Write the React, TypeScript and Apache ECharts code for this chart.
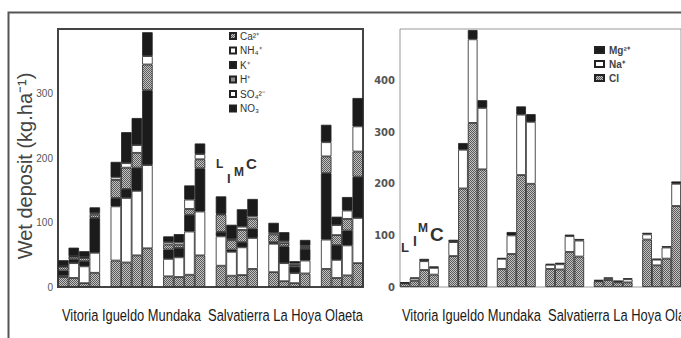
import React, { useEffect, useRef } from "react";
import * as echarts from "echarts";

const sites = ["Vitoria", "Igueldo", "Mundaka", "Salvatierra", "La Hoya", "Olaeta"];
const subLabels = ["L", "I", "M", "C"];

// Left panel (kg/ha), 4 bars per site: L, I, M, C — stacked bottom to top
const caL = [15.5, 14, 6, 22, 41, 38, 49, 60, 16.5, 15.5, 19, 49, 33, 17.5, 18.5, 28, 23, 9, 6, 21, 28, 14, 18, 37];
const nh4L = [2, 23, 26, 31, 84, 100, 100, 129, 27, 30.5, 67, 68, 45.5, 37, 43, 48, 44, 28, 15.5, 20, 45.5, 28, 46.5, 70];
const kL = [8, 6, 8, 54, 13, 14, 36, 116, 14.5, 14.5, 26, 67, 7, 3.5, 8, 14.5, 2.5, 26, 10, 18, 103, 23, 23, 64];
const hL = [6, 4, 5, 5, 28, 33, 23, 40, 8, 5, 9, 14, 27, 14.5, 19, 15.5, 12, 5, 2.5, 3, 26, 15.5, 18, 39];
const so4L = [1, 1, 1.5, 2.5, 4, 7, 12, 13, 3.5, 3.5, 14.5, 8, 1, 2, 5, 3.5, 2.5, 3, 2.5, 2, 22, 15.5, 13, 39];
const no3L = [9, 13, 9, 9, 24, 48, 42, 37, 9, 13, 22, 16.5, 27, 22, 27, 27, 15.5, 14, 3.5, 9, 27, 13, 21, 44];

// Right panel
const clR = [7, 12, 33, 24, 60, 191, 318, 228, 35, 64, 217, 200, 35, 34, 68, 59, 11, 13.5, 9, 9, 92, 42, 55, 157];
const naR = [1, 4.5, 17, 13, 27, 75, 162, 119, 19.5, 36, 117, 120, 8, 10, 30.5, 31, 1.3, 3, 2, 6, 10, 11, 21.5, 43];
const mgR = [1, 2, 4.5, 3, 4.5, 13, 18, 15, 2, 6.5, 16, 15, 2, 3, 3, 3, 1.3, 2, 1, 2, 3, 2, 2.6, 4.5];

const leftTicks = ["0", "100", "200", "300"];
const rightTicks = ["0", "100", "200", "300", "400"];
const siteLine = "Vitoria Igueldo Mundaka  Salvatierra La Hoya Olaeta";

// 29 slots: 4 bars per site + 1 gap between sites
const slots: string[] = [];
sites.forEach((s, i) => {
  subLabels.forEach((l) => slots.push(s + " " + l));
  if (i < sites.length - 1) slots.push("");
});

function pad(vals: number[]): (number | null)[] {
  const out: (number | null)[] = [];
  sites.forEach((_, i) => {
    for (let j = 0; j < 4; j++) out.push(vals[i * 4 + j]);
    if (i < sites.length - 1) out.push(null);
  });
  return out;
}

export default function App() {
  const ref = useRef<HTMLDivElement>(null);
  useEffect(() => {
    if (!ref.current) return;
    const chart = echarts.init(ref.current, undefined, { renderer: "svg" });

    const cv = document.createElement("canvas");
    cv.width = 2;
    cv.height = 2;
    const cx = cv.getContext("2d")!;
    cx.fillStyle = "#c4c4c4";
    cx.fillRect(0, 0, 2, 2);
    cx.fillStyle = "#5a5a5a";
    cx.fillRect(0, 0, 1, 1);
    cx.fillRect(1, 1, 1, 1);
    const hatch: any = { image: cv, repeat: "repeat", imageWidth: 2, imageHeight: 2 };

    const border = { borderColor: "#222", borderWidth: 0.8 };
    const mk = (name: string, data: number[], color: any, idx: number, stack: string) => ({
      name,
      type: "bar",
      stack,
      xAxisIndex: idx,
      yAxisIndex: idx,
      data: pad(data),
      barCategoryGap: "0%",
      itemStyle: { color, ...border },
    });

    const fontFamily = "Liberation Sans, Arial, sans-serif";

    chart.setOption({
      animation: false,
      textStyle: { fontFamily },
      grid: [
        { left: 58, top: 29, width: 305, height: 258, show: true, borderColor: "#444", borderWidth: 2, backgroundColor: "transparent" },
        { left: 400, top: 29, width: 287, height: 258, show: true, borderColor: "#999", borderWidth: 1, backgroundColor: "transparent" },
      ],
      xAxis: [
        { type: "category", gridIndex: 0, data: slots, axisLine: { show: false }, axisTick: { show: false }, axisLabel: { show: false } },
        { type: "category", gridIndex: 1, data: slots, axisLine: { show: false }, axisTick: { show: false }, axisLabel: { show: false } },
      ],
      yAxis: [
        {
          type: "value", gridIndex: 0, min: 0, max: 400, interval: 100,
          splitLine: { show: false }, axisLine: { show: false }, axisTick: { show: false },
          axisLabel: { showMaxLabel: false, fontSize: 10, color: "#555", margin: 5, formatter: (v: number) => leftTicks[v / 100] ?? "" },
        },
        {
          type: "value", gridIndex: 1, min: 0, max: 500, interval: 100,
          splitLine: { show: false }, axisLine: { show: false }, axisTick: { show: false },
          axisLabel: { showMaxLabel: false, fontSize: 10, fontWeight: "bold", fontFamily: "DejaVu Sans, sans-serif", color: "#555", margin: 5, formatter: (v: number) => rightTicks[v / 100] ?? "" },
        },
      ],
      legend: [
        {
          data: ["Ca²⁺", "NH₄⁺", "K⁺", "H⁺", "SO₄²⁻", "NO₃"],
          orient: "vertical", left: 229, top: 30, icon: "rect",
          itemWidth: 6, itemHeight: 6, itemGap: 2.5, padding: 0,
          textStyle: { fontSize: 10, color: "#333", lineHeight: 12, padding: [0, 0, 0, -1] },
          selectedMode: false,
        },
        {
          data: ["Mg²⁺", "Na⁺", "Cl"],
          orient: "vertical", left: 594, top: 44, icon: "rect",
          itemWidth: 9, itemHeight: 6, itemGap: 2, padding: 0,
          textStyle: { fontSize: 10, fontWeight: "bold", color: "#444", lineHeight: 12 },
          selectedMode: false,
        },
      ],
      series: [
        mk("Ca²⁺", caL, hatch, 0, "a"),
        mk("NH₄⁺", nh4L, "#ffffff", 0, "a"),
        mk("K⁺", kL, "#1b1b1b", 0, "a"),
        mk("H⁺", hL, hatch, 0, "a"),
        mk("SO₄²⁻", so4L, "#ffffff", 0, "a"),
        mk("NO₃", no3L, "#1b1b1b", 0, "a"),
        mk("Cl", clR, hatch, 1, "b"),
        mk("Na⁺", naR, "#ffffff", 1, "b"),
        mk("Mg²⁺", mgR, "#1b1b1b", 1, "b"),
      ],
      graphic: [
        { type: "polyline", shape: { points: [[8.5, 338], [8.5, 12.5], [681, 12.5]] }, style: { stroke: "#555", lineWidth: 2, fill: null } },
        {
          type: "text", x: 25, y: 166, rotation: Math.PI / 2,
          style: { text: "Wet deposit (kg.ha⁻¹)", fontSize: 20, fill: "#444", align: "center", verticalAlign: "middle", fontFamily },
        },
        { type: "text", x: 62, y: 315, scaleX: 0.76, style: { text: siteLine, fontSize: 17, fill: "#1a1a1a", verticalAlign: "middle", fontFamily } },
        { type: "text", x: 402, y: 315, scaleX: 0.76, style: { text: siteLine, fontSize: 17, fill: "#1a1a1a", verticalAlign: "middle", fontFamily } },
        // L I M C annotations, left panel
        { type: "text", x: 216, y: 158, style: { text: "L", fontSize: 12, fontWeight: "bold", fill: "#333", fontFamily } },
        { type: "text", x: 227, y: 172, style: { text: "I", fontSize: 13, fontWeight: "bold", fill: "#333", fontFamily } },
        { type: "text", x: 234, y: 166, style: { text: "M", fontSize: 12, fontWeight: "bold", fill: "#333", fontFamily } },
        { type: "text", x: 246, y: 156, style: { text: "C", fontSize: 15, fontWeight: "bold", fill: "#333", fontFamily } },
        // right panel
        { type: "text", x: 401, y: 241, style: { text: "L", fontSize: 13, fontWeight: "bold", fill: "#333", fontFamily } },
        { type: "text", x: 413, y: 234, style: { text: "I", fontSize: 14, fontWeight: "bold", fill: "#333", fontFamily } },
        { type: "text", x: 418, y: 222, style: { text: "M", fontSize: 12, fontWeight: "bold", fill: "#333", fontFamily } },
        { type: "text", x: 430, y: 225, style: { text: "C", fontSize: 19, fontWeight: "bold", fill: "#333", fontFamily } },
      ],
    });
    return () => chart.dispose();
  }, []);
  return <div ref={ref} style={{ width: 681, height: 338, position: "absolute", left: 0, top: 0, background: "#fff" }} />;
}
